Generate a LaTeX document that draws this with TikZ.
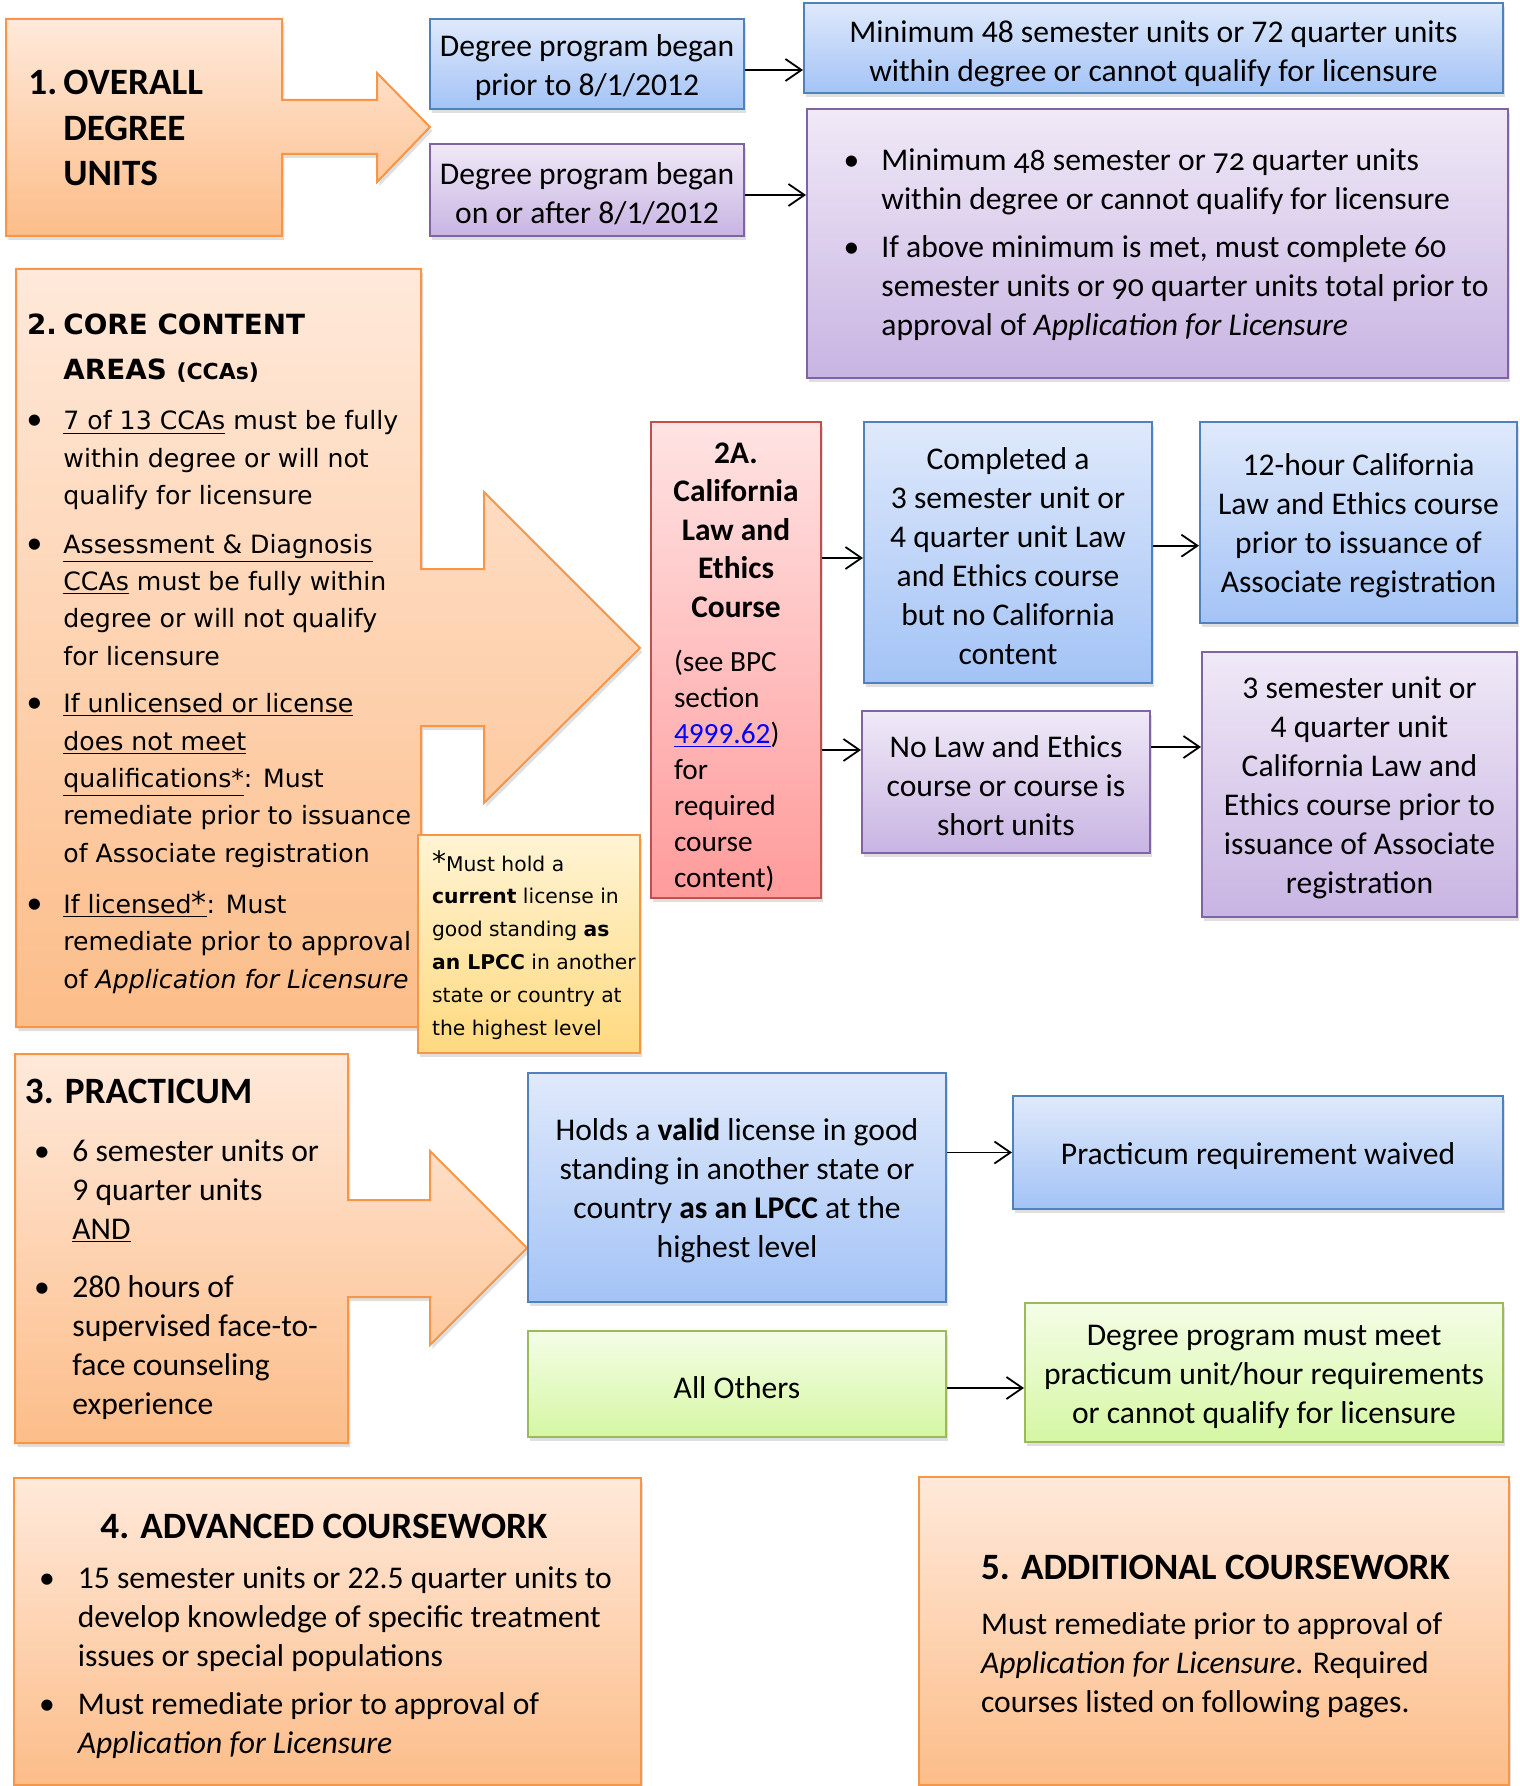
\documentclass[tikz,border=0pt]{standalone}
\usepackage{fontspec}
\setmainfont{Carlito}
\newfontfamily\tahf{DejaVu Sans}
\newfontfamily\calosf{Carlito}[Numbers=OldStyle]
\usetikzlibrary{arrows.meta,shadows}

\definecolor{orT}{HTML}{FFE9DA}
\definecolor{orB}{HTML}{FCBD89}
\definecolor{orD}{HTML}{F79646}
\definecolor{blT}{HTML}{DFE9FB}
\definecolor{blB}{HTML}{A3C3F6}
\definecolor{blD}{HTML}{4F81BD}
\definecolor{puT}{HTML}{F0E9F7}
\definecolor{puB}{HTML}{C8B4E2}
\definecolor{puD}{HTML}{8064A2}
\definecolor{rdT}{HTML}{FFE3E3}
\definecolor{rdB}{HTML}{FF9B9B}
\definecolor{rdD}{HTML}{C0504D}
\definecolor{grT}{HTML}{F4FDE6}
\definecolor{grB}{HTML}{D5F7A3}
\definecolor{grD}{HTML}{9BBB59}
\definecolor{ylT}{HTML}{FFF4D4}
\definecolor{ylB}{HTML}{FFD97F}

\newcommand\fbody{\fontsize{15.8pt}{19.5pt}\selectfont}
\newcommand\fhead{\fontsize{18.6pt}{22.75pt}\selectfont\bfseries}
\newcommand\ftah{\tahf\fontsize{12.6pt}{18.7pt}\selectfont}
\newcommand\ffoot{\tahf\fontsize{10.15pt}{16.4pt}\selectfont}
\newcommand\undl[1]{\underline{#1}}
\newcommand\lnk[1]{\textcolor{blue}{\underline{#1}}}
\newcommand\bul[1]{\llap{\makebox[0pt]{•}\hspace{#1}}}
\newcommand\bulc[1]{\llap{\makebox[0pt]{\rmfamily\fbody•}\hspace{#1}}}
\newcommand\tsh{\rule{0pt}{14.5pt}}

\begin{document}
\begin{tikzpicture}[x=0.5pt,y=-0.5pt,
 bx/.style={line width=1pt, inner sep=0pt, align=center, font=\fbody,
   drop shadow={opacity=0.25,shadow xshift=1.2pt,shadow yshift=-2pt}},
 orbox/.style={bx, draw=orD, top color=orT, bottom color=orB},
 blbox/.style={bx, draw=blD, top color=blT, bottom color=blB},
 pubox/.style={bx, draw=puD, top color=puT, bottom color=puB},
 rdbox/.style={bx, draw=rdD, top color=rdT, bottom color=rdB},
 grbox/.style={bx, draw=grD, top color=grT, bottom color=grB},
 ylbox/.style={bx, draw=orD, top color=ylT, bottom color=ylB},
 txt/.style={inner sep=0pt, anchor=base west, align=left},
 arr/.style={line width=0.9pt, -{Straight Barb[length=8pt,width=11pt]}},
]
\useasboundingbox (0,0) rectangle (1519,1786);

% ---- orange block shapes with arrows
\path[orbox, line join=miter] (6,19) -- (282,19) -- (282,100) -- (377,100) -- (377,73) -- (430,127)
  -- (377,182) -- (377,154) -- (282,154) -- (282,236) -- (6,236) -- cycle;
\path[orbox, line join=miter] (16,269) -- (421,269) -- (421,569) -- (484,569) -- (484,492) -- (640,648)
  -- (484,803) -- (484,726) -- (421,726) -- (421,1027) -- (16,1027) -- cycle;
\path[orbox, line join=miter] (15,1054) -- (348,1054) -- (348,1200) -- (430,1200) -- (430,1151) -- (527,1248)
  -- (430,1345) -- (430,1297) -- (348,1297) -- (348,1443) -- (15,1443) -- cycle;

% ---- boxes
\node[blbox, minimum width=157pt, minimum height=45pt] (P1) at (587,64) {\tsh Degree program began\\prior to 8/1/2012};
\node[blbox, minimum width=349.5pt, minimum height=45pt] (M1) at (1153.5,48) {\rule{0pt}{16.6pt}Minimum 48 semester units or 72 quarter units\\within degree or cannot qualify for licensure};
\node[pubox, minimum width=157pt, minimum height=46pt] (P2) at (587,190) {\tsh Degree program began\\on or after 8/1/2012};
\node[pubox, minimum width=350.5pt, minimum height=134.5pt] (M2) at (1157.5,243.5) {};
\node[rdbox, minimum width=85pt, minimum height=238pt] (L2A) at (736,660) {};
\node[blbox, minimum width=144pt, minimum height=130.5pt] (C1) at (1008,552.5) {\tsh Completed a\\3 semester unit or\\4 quarter unit Law\\and Ethics course\\but no California\\content};
\node[blbox, minimum width=158.5pt, minimum height=100.5pt] (C2) at (1358.5,522.5) {\tsh 12-hour California\\Law and Ethics course\\prior to issuance of\\Associate registration};
\node[pubox, minimum width=144pt, minimum height=71pt] (N1) at (1006,782) {\tsh No Law and Ethics\\course or course is\\short units};
\node[pubox, minimum width=157.5pt, minimum height=132.5pt] (N2) at (1359.5,784.5) {\tsh 3 semester unit or\\4 quarter unit\\California Law and\\Ethics course prior to\\issuance of Associate\\registration};
\node[ylbox, minimum width=111pt, minimum height=109pt] (FN) at (529,944) {};
\node[blbox, minimum width=209pt, minimum height=114.5pt] (H1) at (737,1187.5) {\tsh Holds a \textbf{valid} license in good\\standing in another state or\\country \textbf{as an LPCC} at the\\highest level};
\node[blbox, minimum width=245pt, minimum height=56.5pt] (W1) at (1258,1152.5) {\tsh Practicum requirement waived};
\node[grbox, minimum width=209pt, minimum height=53pt] (AO) at (737,1384) {\tsh All Others};
\node[grbox, minimum width=239pt, minimum height=69.5pt] (G2) at (1264,1372.5) {\tsh Degree program must meet\\practicum unit/hour requirements\\or cannot qualify for licensure};
\node[orbox, minimum width=313.5pt, minimum height=153.5pt] (B4) at (327.5,1631.5) {};
\node[orbox, minimum width=295pt, minimum height=154pt] (B5) at (1214,1631) {};

% ---- texts (anchor = baseline of the LAST line)
\node[txt, font=\fhead] (t1) at (63,186) {\llap{1.\hspace{3.1pt}}OVERALL\\DEGREE\\UNITS};
\node[txt, font=\calosf\fbody] (tM2) at (881,336) {\bul{15pt}Minimum 48 semester or 72 quarter units\\within degree or cannot qualify for licensure\\[4.5pt]
\bul{15pt}If above minimum is met, must complete 60\\semester units or 90 quarter units total prior to\\approval of \textit{Application for Licensure}};
\node[txt, font=\tahf\fontsize{13.9pt}{22.5pt}\selectfont\bfseries] (t2) at (63,380) {\llap{2.\hspace{3.2pt}}CORE CONTENT\\AREAS {\fontsize{11pt}{11pt}\selectfont(CCAs)}};
\node[txt, font=\ftah] (t2list) at (63,988) {\bulc{14.5pt}\undl{7 of 13 CCAs} must be fully\\
within degree or will not\\
qualify for licensure\\[5.5pt]
\bulc{14.5pt}\undl{Assessment \& Diagnosis}\\
\undl{CCAs} must be fully within\\
degree or will not qualify\\
for licensure\\[5pt]
\bulc{14.5pt}\undl{If unlicensed or license}\\
\undl{does not meet}\\
\undl{qualifications*}: Must\\
remediate prior to issuance\\
of Associate registration\\[6.8pt]
\bulc{14.5pt}\undl{If licensed{\fontsize{15pt}{15pt}\selectfont*}}: Must\\
remediate prior to approval\\
of \textit{Application for Licensure}};
\node[txt, font=\ffoot] (tFN) at (431.7,1035) {{\fontsize{14pt}{14pt}\selectfont*}Must hold a\\
\textbf{current} license in\\
good standing \textbf{as}\\
\textbf{an LPCC} in another\\
state or country at\\
the highest level};
\node[inner sep=0pt, anchor=base, align=center, font=\fontsize{15.7pt}{19.25pt}\selectfont\bfseries] (t2A) at (736,617) {2A.\\California\\Law and\\Ethics\\Course};
\node[txt, font=\fontsize{14.65pt}{18pt}\selectfont] (t2Ab) at (673.6,887) {(see BPC\\section\\\lnk{4999.62})\\for\\required\\course\\content)};
\node[txt, font=\fhead] (t3) at (24.5,1103) {3. PRACTICUM};
\node[txt, font=\fbody] (t3list) at (72,1414) {\bul{15.2pt}6 semester units or\\
9 quarter units\\
\undl{AND}\\[9.5pt]
\bul{15.2pt}280 hours of\\
supervised face-to-\\
face counseling\\
experience};
\node[txt, font=\fhead] (t4) at (100,1538) {4. ADVANCED COURSEWORK};
\node[txt, font=\fbody] (t4list) at (77.5,1753) {\bul{15.5pt}15 semester units or 22.5 quarter units to\\
develop knowledge of specific treatment\\
issues or special populations\\[4.5pt]
\bul{15.5pt}Must remediate prior to approval of\\
\textit{Application for Licensure}};
\node[txt, font=\fhead] (t5) at (980.6,1579) {5. ADDITIONAL COURSEWORK};
\node[txt, font=\fbody] (t5b) at (980.6,1712) {Must remediate prior to approval of\\
\textit{Application for Licensure}. Required\\
courses listed on following pages.};

% ---- connectors
\coordinate (k1) at ([yshift=-3pt]P1.east);
\draw[arr] (k1) -- (k1 -| M1.west);
\coordinate (k2) at ([yshift=-2.5pt]P2.east);
\draw[arr] (k2) -- (k2 -| M2.west);
\coordinate (k3) at ([yshift=-2.75pt]C1.west);
\draw[arr] (k3 -| L2A.east) -- (k3);
\coordinate (k4) at ([yshift=3.4pt]C1.east);
\draw[arr] (k4) -- (k4 -| C2.west);
\coordinate (k5) at ([yshift=16pt]N1.west);
\draw[arr] (k5 -| L2A.east) -- (k5);
\coordinate (k6) at ([yshift=17.5pt]N1.east);
\draw[arr] (k6) -- (k6 -| N2.west);
\draw[arr] (W1.west -| H1.east) -- (W1.west);
\coordinate (k7) at ([yshift=-2pt]AO.east);
\draw[arr] (k7) -- (k7 -| G2.west);
\end{tikzpicture}
\end{document}
